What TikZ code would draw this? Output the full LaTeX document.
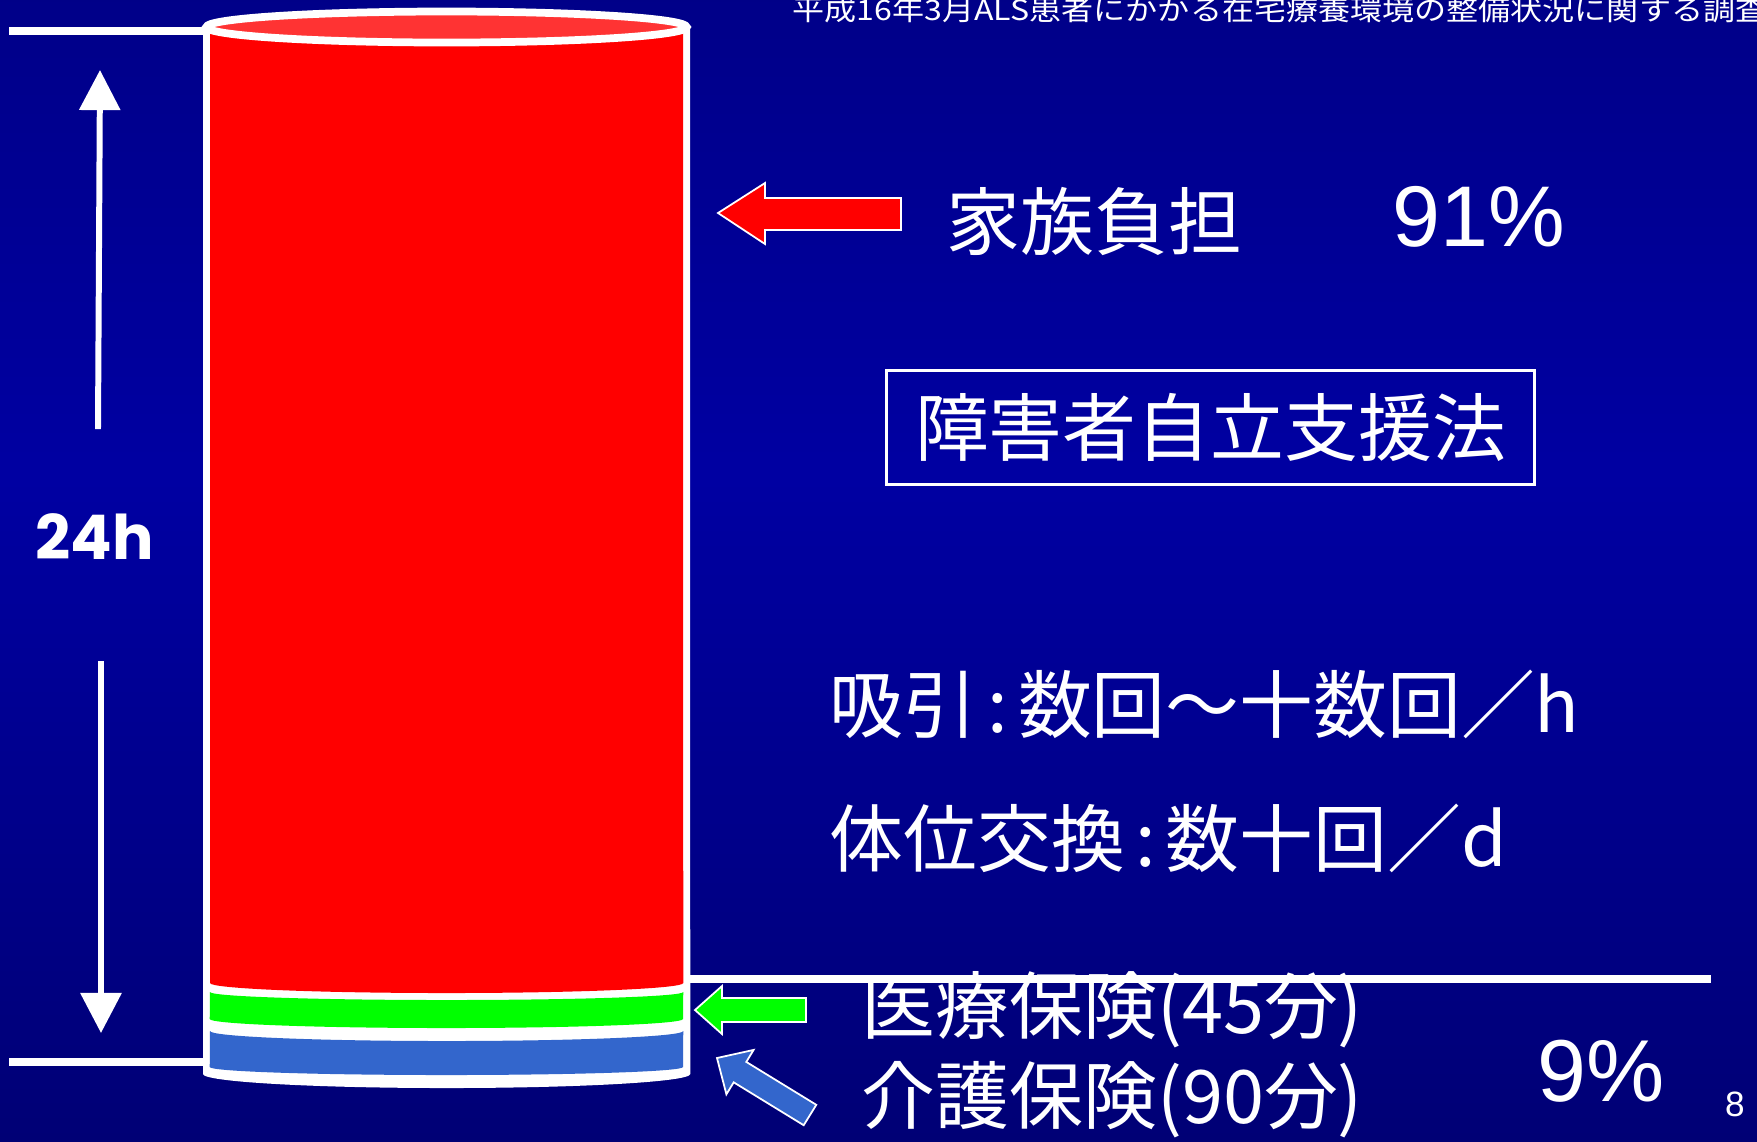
\documentclass[tikz,border=0pt]{standalone}
\usepackage{fontspec}
\newfontfamily\jpfont{Noto Sans CJK JP}
\newfontfamily\titlefont[FakeStretch=1.14]{Noto Sans CJK JP}
\newfontfamily\numfont{Liberation Sans}
\newfontfamily\hourfont{Poppins}
\usetikzlibrary{arrows.meta}
\definecolor{bgtop}{HTML}{00006A}
\definecolor{bgmid}{HTML}{0000A2}
\definecolor{bgbot}{HTML}{00004E}
\definecolor{cylred}{HTML}{FF0000}
\definecolor{cyltop}{HTML}{FF3333}
\definecolor{cylgreen}{HTML}{00FF00}
\definecolor{cylblue}{HTML}{3366CC}
\pgfdeclareverticalshading{slidebg}{100bp}{color(0bp)=(bgbot); color(54bp)=(bgmid); color(100bp)=(bgtop)}
\tikzset{
	rim/.style={draw=white, line width=2.2pt},
	levelline/.style={draw=white, line width=2.1pt},
	spanarrow/.style={draw=white, line width=1.7pt, -{Triangle[width=11.4pt,length=11.4pt]}},
	pointer/.style={draw=white, line width=0.5pt},
	bigjp/.style={text=white, inner sep=0pt, anchor=west, font=\jpfont\fontsize{21}{25}\selectfont},
	pct/.style={text=white, inner sep=0pt, anchor=west, font=\numfont\fontsize{24.5}{29}\selectfont},
}

\begin{document}
\begin{tikzpicture}[x=0.01cm, y=0.01cm]
	\clip (0,0) rectangle (1757,-1141);
	\shade[shading=slidebg] (0,0) rectangle (1757,-1141);
	% cylinder
	\fill[white] (203,-27) -- (203,-1074) arc[start angle=180, end angle=360, x radius=2.435cm, y radius=0.14cm] -- (690,-27) -- cycle;
	\fill[cylred] (210,-27) -- (210,-983) arc[start angle=180, end angle=360, x radius=2.365cm, y radius=0.10cm] -- (683,-27) -- cycle;
	\fill[cylgreen] (210,-992) arc[start angle=180, end angle=360, x radius=2.365cm, y radius=0.08cm] -- (683,-1019) arc[start angle=0, end angle=-180, x radius=2.365cm, y radius=0.09cm] -- cycle;
	\fill[cylblue] (210,-1031) arc[start angle=180, end angle=360, x radius=2.365cm, y radius=0.10cm] -- (683,-1067) arc[start angle=0, end angle=-180, x radius=2.365cm, y radius=0.08cm] -- cycle;
	\filldraw[rim, fill=cyltop] (446.5,-27) ellipse[x radius=2.40cm, y radius=0.155cm];
	% texts
	\node[text=white, inner sep=0pt, anchor=base west, font=\titlefont\fontsize{8}{9}\selectfont] (survey) at (792,-20) {平成16年3月ALS患者にかかる在宅療養環境の整備状況に関する調査};
	\node[bigjp] (famtxt) at (946,-221) {家族負担};
	\node[pct] (fampct) at (1392,-217) {91\%};
	\node[draw=white, line width=0.85pt, minimum width=6.47cm, minimum height=1.14cm, text=white, inner sep=0pt, font=\jpfont\fontsize{21}{25}\selectfont] (lawbox) at (1210.5,-427.5) {障害者自立支援法};
	\node[bigjp] (suctxt) at (829,-704) {吸引\makebox[0.55em]{:}数回～十数回／h};
	\node[bigjp] (postxt) at (829,-838) {体位交換\makebox[0.55em]{:}数十回／d};
	\node[bigjp] (medtxt) at (861,-1010) {医療保険(45分)};
	\node[bigjp] (caretxt) at (861,-1100) {介護保険(90分)};
	\node[pct, font=\numfont\fontsize{25}{29}\selectfont] (carepct) at (1537,-1071) {9\%};
	\node[text=white, inner sep=0pt, font=\numfont\fontsize{10}{12}\selectfont] (pageno) at (1735,-1104) {8};
	\node[text=white, inner sep=0pt, font=\hourfont\bfseries\fontsize{17.5}{22}\selectfont] (hours) at (95,-537) {24h};
	% level lines
	\coordinate (toptl) at (9,-31);
	\coordinate (toptr) at (203,-31);
	\coordinate (botl) at (9,-1062);
	\coordinate (botr) at (203,-1062);
	\coordinate (midl) at (690,-979);
	\coordinate (midr) at (1711,-979);
	\draw[levelline] (toptl) -- (toptr);
	\draw[levelline] (botl) -- (botr);
	\draw[levelline] (midl) -- (midr);
	% 24h span
	\coordinate (uptail) at (98,-429);
	\coordinate (uphead) at (100,-70);
	\coordinate (downtail) at (101,-661);
	\coordinate (downhead) at (101,-1033);
	\draw[spanarrow] (uptail) -- (uphead);
	\draw[spanarrow] (downtail) -- (downhead);
	% block arrows
	\filldraw[pointer, fill=cylred] (718,-213) -- (765,-183) -- (765,-198) -- (901,-198) -- (901,-230) -- (765,-230) -- (765,-244) -- cycle;
	\filldraw[pointer, fill=cylgreen] (695,-1010) -- (722,-986) -- (722,-998) -- (806,-998) -- (806,-1022) -- (722,-1022) -- (722,-1034) -- cycle;
	\filldraw[pointer, fill=cylblue] (717,-1058) -- (753.6,-1049.9) -- (746.3,-1061.9) -- (816.3,-1104.8) -- (803.7,-1125.2) -- (733.7,-1082.3) -- (726.4,-1094.3) -- cycle;
\end{tikzpicture}
\end{document}
